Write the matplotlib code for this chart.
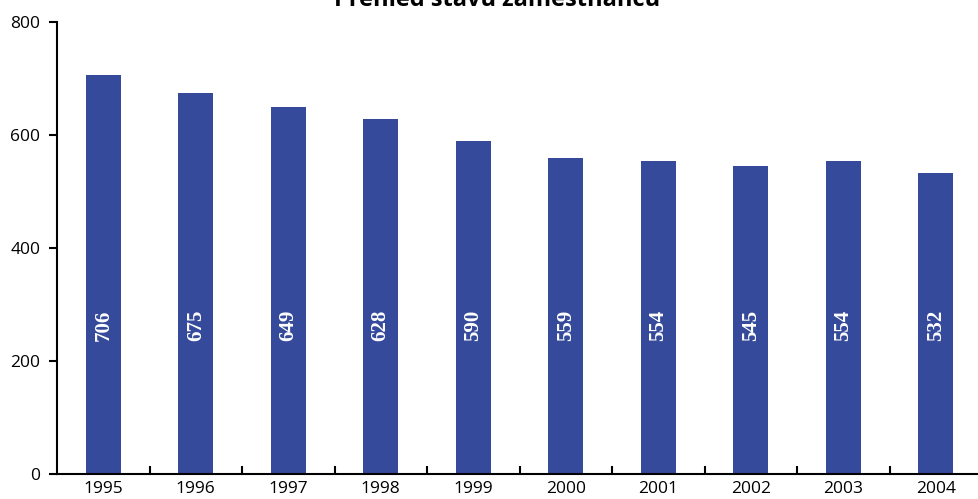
import matplotlib
matplotlib.use("Agg")
import matplotlib.pyplot as plt

years = ["1995", "1996", "1997", "1998", "1999", "2000", "2001", "2002", "2003", "2004"]
values = [706, 675, 649, 628, 590, 559, 554, 545, 554, 532]
yticks = [0, 200, 400, 600, 800]
title = "Přehled stavu zaměstnanců"

W, H = 979, 499
fig = plt.figure(figsize=(W / 100, H / 100), dpi=100)
left, right, bottom, top = 57, 982, 474, 22
ax = fig.add_axes([left / W, 1 - bottom / H, (right - left) / W, (bottom - top) / H])

x = list(range(len(years)))
ax.bar(x, values, width=0.38, color="#364A9B", zorder=2)
for xi, v in zip(x, values):
    ax.text(xi, 263, str(v), rotation=90, ha="center", va="center", color="white",
            fontsize=15, fontweight="bold", family="Liberation Serif")

ax.set_xlim(-0.5, len(years) - 0.5)
ax.set_ylim(0, 800)
ax.set_yticks(yticks)
ax.set_yticklabels([str(t) for t in yticks], family="Open Sans", fontsize=12.5)
ax.set_xticks(x)
ax.set_xticklabels(years, family="Open Sans", fontsize=12.5)
ax.tick_params(axis="x", length=0, pad=5)
ax.set_xticks([i + 0.5 for i in x], minor=True)
ax.tick_params(axis="x", which="minor", direction="in", length=6, width=1.5)
ax.tick_params(axis="y", direction="out", length=6, width=1.5, pad=6)
for s in ["top", "right"]:
    ax.spines[s].set_visible(False)
for s in ["left", "bottom"]:
    ax.spines[s].set_linewidth(1.5)

fig.text(497 / W, 1 - 6 / H, title, ha="center", va="baseline", fontsize=17,
         fontweight="bold", family="Open Sans")

fig.savefig("out.png", dpi=100)
